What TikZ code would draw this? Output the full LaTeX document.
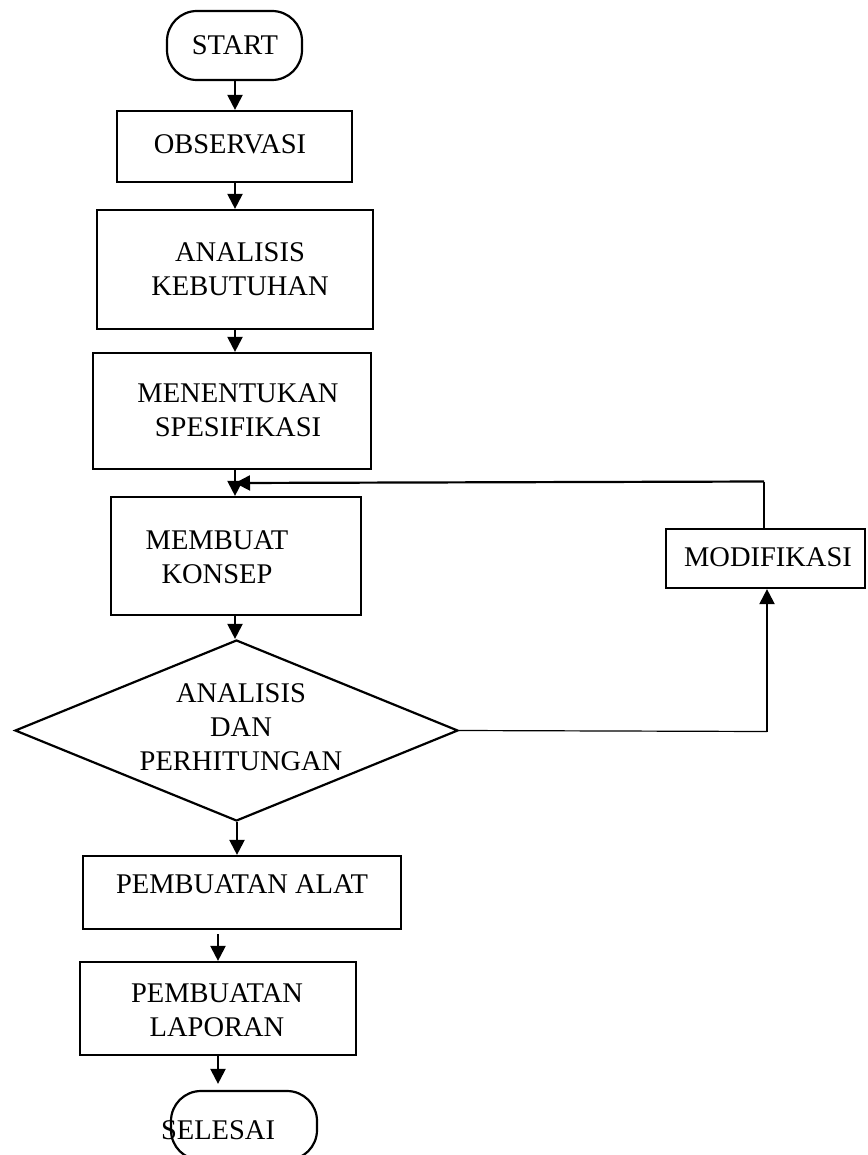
\documentclass[tikz,border=0pt]{standalone}
\usepackage{fontspec}
\setmainfont{Liberation Serif}
\usetikzlibrary{arrows.meta,shapes.geometric,calc}
\begin{document}
\begin{tikzpicture}[x=1pt,y=-1pt,
  boxline/.style={draw=black,line width=2.2pt,inner sep=0pt},
  procbox/.style={boxline,rectangle},
  termbox/.style={boxline,rectangle,rounded corners=30pt},
  lbl/.style={font=\fontsize{28.5}{34}\selectfont,align=center,inner sep=0pt},
  flow/.style={line width=2.2pt,-{Triangle[length=15pt,width=15pt]}},
  thinline/.style={line width=1.2pt}]
\useasboundingbox (0,0) rectangle (867,1155);
\clip (0,0) rectangle (867,1155);
% shapes
\node[termbox,minimum width=135pt,minimum height=69pt] (start) at (234.5,45.5) {};
\node[procbox,minimum width=235pt,minimum height=71pt] (obs) at (234.5,146.5) {};
\node[procbox,minimum width=276pt,minimum height=119pt] (ana) at (235,269.5) {};
\node[procbox,minimum width=278pt,minimum height=116pt] (men) at (232,411) {};
\node[procbox,minimum width=250pt,minimum height=118pt] (mem) at (236,556) {};
\node[boxline,diamond,minimum width=443pt,minimum height=181pt] (dia) at (236.5,730.5) {};
\node[procbox,minimum width=318pt,minimum height=73pt] (alat) at (242,892.5) {};
\node[procbox,minimum width=276pt,minimum height=93pt] (lap) at (218,1008.5) {};
\node[termbox,minimum width=146pt,minimum height=69pt] (sel) at (244,1125.5) {};
\node[procbox,minimum width=199pt,minimum height=59pt] (mod) at (765.5,558.5) {};
% labels
\node[lbl] (tstart) at (235,45) {START};
\node[lbl] (tobs) at (230,144) {OBSERVASI};
\node[lbl] (tana) at (240,269) {ANALISIS\\KEBUTUHAN};
\node[lbl] (tmen) at (238,410) {MENENTUKAN\\SPESIFIKASI};
\node[lbl] (tmem) at (217,557.5) {MEMBUAT\\KONSEP};
\node[lbl] (tdia) at (241,727) {ANALISIS\\DAN\\PERHITUNGAN};
\node[lbl] (talat) at (242,884) {PEMBUATAN ALAT};
\node[lbl] (tlap) at (217,1010) {PEMBUATAN\\LAPORAN};
\node[lbl] (tsel) at (218,1130) {SELESAI};
\node[lbl] (tmod) at (768,557) {MODIFIKASI};
% helper coordinates
\coordinate (c1) at (767,731.5);
\coordinate (c2) at (764,481.5);
\coordinate (c3) at (235,483);
% connectors
\draw[flow] (start.south -| 235,0) -- (235,0 |- obs.north);
\draw[flow] (obs.south -| 235,0) -- (235,0 |- ana.north);
\draw[flow] (ana.south -| 235,0) -- (235,0 |- men.north);
\draw[flow] (men.south -| 235,0) -- (235,0 |- mem.north);
\draw[flow] (mem.south -| 235,0) -- (dia.north -| 235,0);
\draw[flow] (dia.south -| 237,0) -- (237,0 |- alat.north);
\draw[flow,shorten <=4pt] (alat.south -| 218,0) -- (218,0 |- lap.north);
\draw[flow,shorten >=6pt] (lap.south -| 218,0) -- (218,0 |- sel.north);
\draw[thinline] (dia.east) -- (c1);
\draw[flow] (c1) -- (c1 |- mod.south);
\draw[thinline] (mod.north -| c2) -- (c2);
\draw[flow] (c2) -- (c3);
\end{tikzpicture}
\end{document}
